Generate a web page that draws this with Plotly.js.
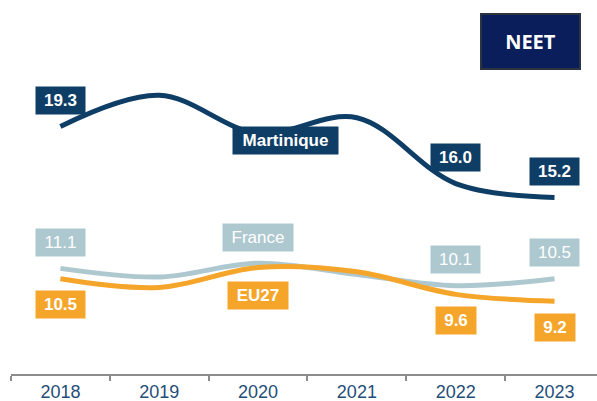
<!DOCTYPE html>
<html><head><meta charset="utf-8">
<script src="https://cdn.plot.ly/plotly-3.0.1.min.js"></script>
<style>html,body{margin:0;padding:0;background:#fff}#chart{width:597px;height:401px}</style>
</head><body><div id="chart"></div>
<script>
const years = ["2018","2019","2020","2021","2022","2023"];
const martinique = [19.3, 21.1, 18.9, 19.8, 16.0, 15.2];
const france = [11.1, 10.6, 11.4, 10.75, 10.1, 10.5];
const eu27 = [10.5, 10.0, 11.15, 10.9, 9.6, 9.2];
const seriesNames = ["Martinique", "France", "EU27"];
const labelledIdx = [0, 4, 5];

const cMart = "#0E3D66", cFr = "#AEC8CF", cEu = "#F5A52A";
const FONT = "Liberation Sans, Arial, sans-serif";

function line(y, color){
  return {x: years, y: y, type: "scatter", mode: "lines",
    line: {shape: "spline", smoothing: 1, color: color, width: 5},
    hoverinfo: "skip", showlegend: false};
}

const ann = [];
function box(xi, y, text, bg, xs, ys, w){
  ann.push({x: xi, y: y, xref: "x", yref: "y", showarrow: false,
    xanchor: "center", yanchor: "middle",
    text: text, xshift: xs, yshift: ys, bgcolor: bg, width: w, height: 23, borderpad: 2,
    font: {family: FONT, size: 17, color: "#ffffff"}});
}
labelledIdx.forEach(i => {
  box(i, martinique[i], "<b>" + martinique[i].toFixed(1) + "</b>", cMart, 0, 26, 45);
  box(i, france[i], france[i].toFixed(1), cFr, 0, 26, 45);
  box(i, eu27[i], "<b>" + eu27[i].toFixed(1) + "</b>", cEu, 0, -26, i === 0 ? 45 : 36);
});
box(2, martinique[2], "<b>" + seriesNames[0] + "</b>", cMart, 27, -7, 101);
box(2, france[2], seriesNames[1], cFr, 0, 26, 66);
box(2, eu27[2], "<b>" + seriesNames[2] + "</b>", cEu, 0, -28, 56);

ann.push({x: 0.886, y: 0.888, xref: "paper", yref: "paper", showarrow: false,
  xanchor: "center", yanchor: "middle",
  text: "<b>NEET</b>", bgcolor: "#0A1E5B", bordercolor: "#2B3440", borderwidth: 2,
  width: 93, height: 49, borderpad: 2,
  font: {family: "Open Sans, sans-serif", size: 20, color: "#fff"}});

const layout = {
  width: 597, height: 401,
  margin: {l: 11, r: 0, t: 0, b: 27},
  paper_bgcolor: "#fff", plot_bgcolor: "#fff",
  xaxis: {type: "category", range: [-0.5, 5.43], showgrid: false, zeroline: false,
    showline: true, linecolor: "#8C8C8C", linewidth: 2,
    ticks: "outside", tickson: "boundaries", ticklen: 5, tickcolor: "#8C8C8C", tickwidth: 2,
    tickfont: {family: FONT, size: 18, color: "#1F4E79"}},
  yaxis: {range: [5, 26.6], visible: false, showgrid: false, zeroline: false},
  annotations: ann
};

Plotly.newPlot("chart", [line(france, cFr), line(eu27, cEu), line(martinique, cMart)], layout,
  {displayModeBar: false, staticPlot: true});
</script></body></html>
